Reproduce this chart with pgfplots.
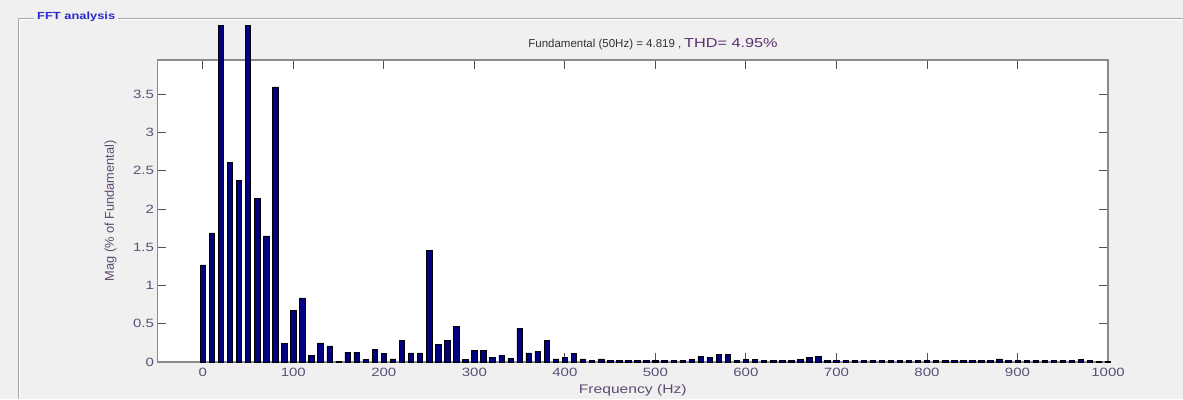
\documentclass[border=0pt]{standalone}
\usepackage{fontspec}
\setmainfont{Liberation Sans}
\newfontfamily\widefont[FakeStretch=1.25]{Liberation Sans}
\usepackage{pgfplots}
\pgfplotsset{compat=1.18}
\usepackage{pgfplotstable}
\definecolor{bg}{HTML}{F0F0F0}
\definecolor{navy}{HTML}{000080}
\definecolor{tickc}{HTML}{5A5078}
\definecolor{labc}{HTML}{5E4A74}
\definecolor{titlec}{HTML}{333333}
\definecolor{thdc}{HTML}{5A3070}
\definecolor{axisgray}{HTML}{8A8A8A}
\definecolor{tickdark}{HTML}{505050}
\definecolor{boxgray}{HTML}{A8A8A8}
\definecolor{boxblue}{HTML}{2A2ACC}

\pgfplotstableread{
f mag
0 1.27
10 1.69
20 4.40
30 2.61
40 2.38
50 4.40
60 2.14
70 1.65
80 3.60
90 0.24
100 0.68
110 0.84
120 0.09
130 0.25
140 0.21
150 0.01
160 0.13
170 0.13
180 0.03
190 0.17
200 0.11
210 0.04
220 0.28
230 0.12
240 0.12
250 1.46
260 0.23
270 0.28
280 0.47
290 0.03
300 0.15
310 0.15
320 0.065
330 0.09
340 0.05
350 0.44
360 0.12
370 0.14
380 0.28
390 0.04
400 0.06
410 0.11
420 0.04
430 0.02
440 0.04
450 0.02
460 0.02
470 0.02
480 0.02
490 0.02
500 0.02
510 0.02
520 0.02
530 0.02
540 0.03
550 0.07
560 0.06
570 0.10
580 0.10
590 0.02
600 0.03
610 0.03
620 0.02
630 0.02
640 0.02
650 0.02
660 0.03
670 0.065
680 0.07
690 0.02
700 0.02
710 0.02
720 0.02
730 0.02
740 0.02
750 0.02
760 0.02
770 0.02
780 0.02
790 0.02
800 0.02
810 0.02
820 0.02
830 0.02
840 0.02
850 0.02
860 0.02
870 0.02
880 0.04
890 0.02
900 0.02
910 0.02
920 0.02
930 0.02
940 0.02
950 0.02
960 0.02
970 0.03
980 0.02
990 0.01
1000 0.01
}\fftdata

\begin{document}
\begin{tikzpicture}[x=1pt,y=1pt]
\fill[bg] (0,0) rectangle (1183,399);
\useasboundingbox (0,0) rectangle (1183,399);
% group box (etched)
\draw[boxgray, line width=1pt] (18.5,0) -- (18.5,380.5) -- (34,380.5);
\draw[boxgray, line width=1pt] (118,380.5) -- (1183,380.5);
\draw[white, line width=1pt] (19.5,0) -- (19.5,379.5) -- (34,379.5);
\draw[white, line width=1pt] (118,379.5) -- (1183,379.5);
\node[text=boxblue, font=\widefont\bfseries\fontsize{10.3}{11}\selectfont, anchor=west, inner sep=1pt] at (36,382) {FFT analysis};

\begin{axis}[
  at={(157.5pt,37pt)}, anchor=south west,
  scale only axis, width=950.5pt, height=302pt,
  xmin=-50, xmax=1000, ymin=0, ymax=3.95,
  xtick={0,100,...,1000},
  ytick={0,0.5,1,1.5,2,2.5,3,3.5},
  tick align=inside, major tick length=9pt,
  axis background/.style={fill=white},
  axis line style={draw=axisgray, line width=1.5pt},
  every tick/.style={draw=tickdark, line width=0.9pt},
  ticklabel style={font=\widefont\fontsize{12}{12}\selectfont, text=tickc},
  xticklabel style={yshift=-3pt},
  /pgf/number format/assume math mode=true,
  /pgf/number format/1000 sep={},
  clip=false,
  xlabel={Frequency (Hz)},
  ylabel={Mag (\% of Fundamental)},
  xlabel style={at={(axis description cs:0.5,0)}, anchor=center, yshift=-28pt,
                font=\widefont\fontsize{12.5}{13}\selectfont, text=labc},
  ylabel style={at={(axis description cs:0,0.5)}, anchor=center, yshift=47pt,
                font=\fontsize{12.8}{13}\selectfont, text=labc},
]
\addplot[ybar, bar width=6, fill=navy, draw=black, line width=0.5pt] table[x=f, y=mag] {\fftdata};
\end{axis}

\node[anchor=center, inner sep=0pt] at (653,355)
  {{\color{titlec}\fontsize{11.5}{12}\selectfont Fundamental (50Hz) = 4.819 ,}\ {\color{thdc}\widefont\fontsize{13}{13}\selectfont THD= 4.95\%}};
\end{tikzpicture}
\end{document}
